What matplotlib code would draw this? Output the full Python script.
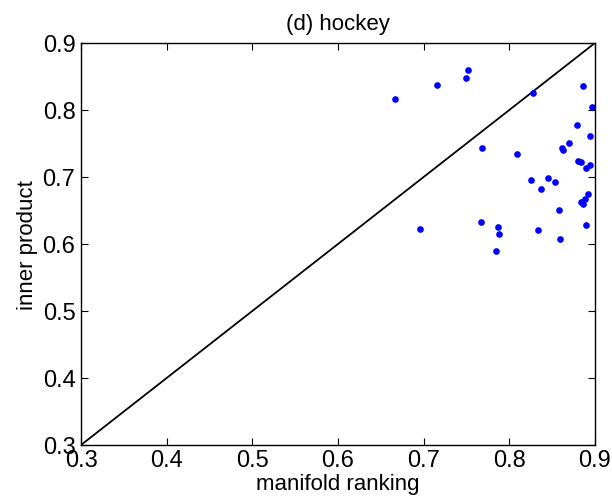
import numpy as np
import matplotlib.pyplot as plt

plt.rcParams['font.family'] = ['Liberation Sans', 'DejaVu Sans']

# scores per query: manifold ranking vs inner product
manifold = [0.667, 0.716, 0.749, 0.752, 0.828, 0.886, 0.896, 0.879, 0.894,
            0.768, 0.809, 0.862, 0.863, 0.870, 0.880, 0.884, 0.889, 0.894,
            0.825, 0.845, 0.853, 0.837, 0.892, 0.888, 0.884, 0.886, 0.858,
            0.696, 0.767, 0.787, 0.788, 0.833, 0.859, 0.785, 0.889]
inner = [0.817, 0.838, 0.848, 0.859, 0.826, 0.836, 0.804, 0.778, 0.761,
         0.743, 0.734, 0.743, 0.741, 0.751, 0.724, 0.722, 0.713, 0.718,
         0.695, 0.699, 0.692, 0.682, 0.674, 0.667, 0.662, 0.660, 0.650,
         0.622, 0.633, 0.625, 0.615, 0.621, 0.607, 0.589, 0.629]
lims = [0.3, 0.9]
ticks = [0.3, 0.4, 0.5, 0.6, 0.7, 0.8, 0.9]

fig = plt.figure(figsize=(6.12, 5.02), dpi=100)
ax = fig.add_axes([0.1324, 0.1116, 0.8398, 0.8008])

ax.plot(lims, lims, 'k-', lw=1.3)
ax.plot(manifold, inner, 'o', color='#0000ff', markersize=4.8, mec='none')

ax.set_xlim(lims)
ax.set_ylim(lims)
ax.set_xticks(ticks)
ax.set_yticks(ticks)
ax.set_xticklabels([str(t) for t in ticks])
ax.set_yticklabels([str(t) for t in ticks])
ax.tick_params(direction='in', top=True, right=True, labelsize=17, length=5, width=0.8)
ax.tick_params(axis='x', pad=3)
ax.tick_params(axis='y', pad=4)
for s in ax.spines.values():
    s.set_linewidth(1.0)

ax.set_xlabel('manifold ranking', fontsize=16, labelpad=1)
ax.set_ylabel('inner product', fontsize=16, labelpad=3)
ax.set_title('(d) hockey', fontsize=16, pad=10)

plt.savefig('out.png', dpi=100)
